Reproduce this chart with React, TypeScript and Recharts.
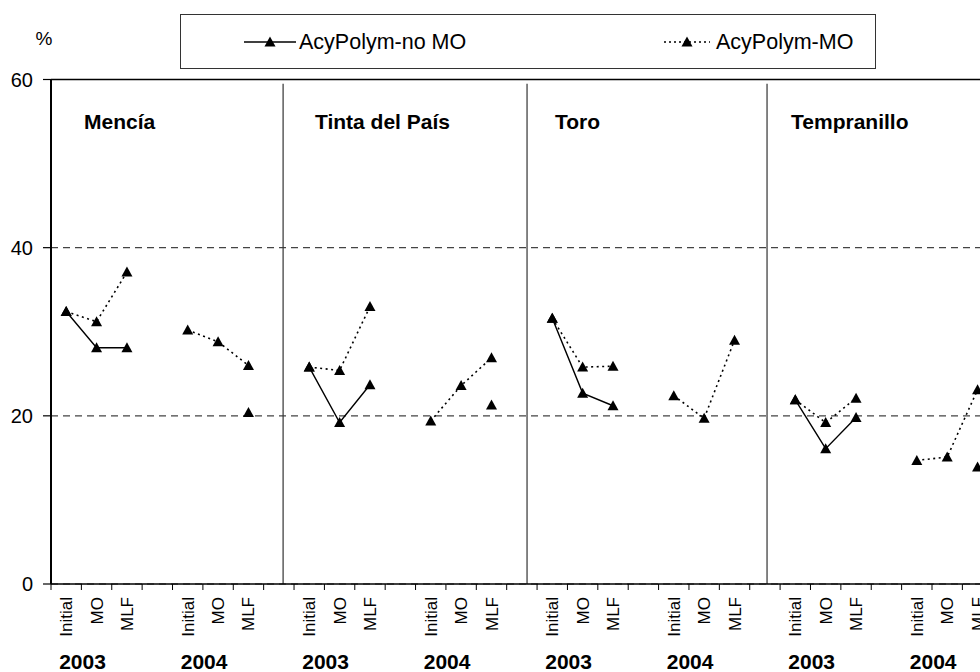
import React from 'react';
import {
  LineChart,
  Line,
  XAxis,
  YAxis,
  CartesianGrid,
  ReferenceLine,
  ReferenceDot,
  Legend,
} from 'recharts';

const FONT = '"Liberation Sans", Arial, Helvetica, sans-serif';

// ---- data ----
const categories = [
  'Initial', 'MO', 'MLF', '', 'Initial', 'MO', 'MLF', '',
  'Initial', 'MO', 'MLF', '', 'Initial', 'MO', 'MLF', '',
  'Initial', 'MO', 'MLF', '', 'Initial', 'MO', 'MLF', '',
  'Initial', 'MO', 'MLF', '', 'Initial', 'MO', 'MLF',
];

const years = ['2003', '2004', '2003', '2004', '2003', '2004', '2003', '2004'];
const yearCategoryIndex = [0, 4, 8, 12, 16, 20, 24, 28];

const varieties = ['Mencía', 'Tinta del País', 'Toro', 'Tempranillo'];

const noMO: (number | null)[] = [
  32.4, 28.1, 28.1, null, null, null, 20.4, null,
  25.8, 19.2, 23.7, null, null, null, 21.3, null,
  31.6, 22.7, 21.2, null, null, null, null, null,
  21.9, 16.1, 19.8, null, null, null, 13.9,
];

const withMO: (number | null)[] = [
  32.4, 31.2, 37.1, null, 30.2, 28.8, 26.0, null,
  25.8, 25.4, 33.0, null, 19.4, 23.6, 26.9, null,
  31.6, 25.8, 25.9, null, 22.4, 19.7, 29.0, null,
  21.9, 19.2, 22.1, null, 14.7, 15.1, 23.1,
];

const yTicks = [0, 20, 40, 60];

// layout helpers (positions, in axis units)
const X_MAX = 30.58;
const separatorX = [7.64, 15.67, 23.57];
const varietyLabelX = [1.09, 8.69, 16.59, 24.36];
const VARIETY_LABEL_Y = 54.1;

const data = categories.map((c, i) => ({
  x: i + 0.5,
  cat: c,
  noMO: noMO[i],
  mo: withMO[i],
}));

const xTickValues: number[] = [];
for (let i = 0; i <= categories.length - 1; i++) {
  xTickValues.push(i);
  xTickValues.push(i + 0.5);
}

const Tri = (props: any) => {
  const { cx, cy, value, index } = props;
  if (cx == null || cy == null || value == null) return <g key={`e-${index}`} />;
  return (
    <path
      key={`t-${index}`}
      d={`M${cx},${cy - 5.5}L${cx + 5.5},${cy + 4.5}L${cx - 5.5},${cy + 4.5}Z`}
      fill="#000"
    />
  );
};

const XTick = (props: any) => {
  const { x, y, payload } = props;
  const v = payload.value as number;
  if (Number.isInteger(v)) {
    return <line x1={x} y1={y} x2={x} y2={y + 6} stroke="#000" strokeWidth={1} />;
  }
  const i = Math.floor(v);
  const label = categories[i];
  const yi = yearCategoryIndex.indexOf(i);
  return (
    <g>
      {label ? (
        <text
          x={x + 6}
          y={y + 13}
          transform={`rotate(-90, ${x + 6}, ${y + 13})`}
          textAnchor="end"
          fontSize={17}
          fontFamily={FONT}
          fill="#000"
        >
          {label}
        </text>
      ) : null}
      {yi >= 0 ? (
        <text
          x={x - 7}
          y={y + 85}
          textAnchor="start"
          fontSize={21}
          fontWeight="bold"
          fontFamily={FONT}
          fill="#000"
        >
          {years[yi]}
        </text>
      ) : null}
    </g>
  );
};

const LegendBox = () => (
  <div
    style={{
      position: 'relative',
      width: 696,
      height: 55,
      border: '1.5px solid #333',
      boxSizing: 'border-box',
      background: '#fff',
      fontFamily: FONT,
      fontSize: 21.5,
      color: '#000',
    }}
  >
    <svg style={{ position: 'absolute', left: 63, top: 19 }} width={54} height={16}>
      <line x1={0} y1={8} x2={52} y2={8} stroke="#000" strokeWidth={1.5} />
      <path d="M26,2.5L31.5,12.5L20.5,12.5Z" fill="#000" />
    </svg>
    <span style={{ position: 'absolute', left: 118, top: 14, lineHeight: '26px', whiteSpace: 'nowrap' }}>
      AcyPolym-no MO
    </span>
    <svg style={{ position: 'absolute', left: 483, top: 19 }} width={48} height={16}>
      <line x1={0} y1={8} x2={46} y2={8} stroke="#000" strokeWidth={1.5} strokeDasharray="2 3" />
      <path d="M23,2.5L28.5,12.5L17.5,12.5Z" fill="#000" />
    </svg>
    <span style={{ position: 'absolute', left: 535, top: 14, lineHeight: '26px', whiteSpace: 'nowrap' }}>
      AcyPolym-MO
    </span>
  </div>
);

export default function App() {
  return (
    <div style={{ position: 'absolute', left: 0, top: 0, width: 980, height: 672, background: '#fff' }}>
      <LineChart
        width={980}
        height={672}
        data={data}
        margin={{ top: 79.5, right: 0, bottom: 0, left: 0 }}
      >
        <CartesianGrid vertical={false} stroke="#444" strokeDasharray="7 5" strokeWidth={1.2} />
        <XAxis
          dataKey="x"
          type="number"
          domain={[0, X_MAX]}
          ticks={xTickValues}
          interval={0}
          height={88}
          tickSize={0}
          tickMargin={0}
          tickLine={false}
          axisLine={{ stroke: '#000', strokeWidth: 1.6 }}
          tick={<XTick />}
          allowDecimals
        />
        <YAxis
          type="number"
          domain={[0, 60]}
          ticks={yTicks}
          interval={0}
          width={51}
          tickSize={8}
          tickMargin={10}
          axisLine={{ stroke: '#000', strokeWidth: 2 }}
          tickLine={{ stroke: '#000', strokeWidth: 1.2 }}
          tick={{ fontSize: 20, fill: '#000', fontFamily: FONT }}
          label={{
            content: () => (
              <text x={44} y={45} textAnchor="middle" fontSize={19} fontFamily={FONT} fill="#000">
                %
              </text>
            ),
          }}
        />
        <ReferenceLine y={60} stroke="#000" strokeWidth={1.6} />
        {separatorX.map((sx) => (
          <ReferenceLine
            key={`sep-${sx}`}
            segment={[
              { x: sx, y: 0 },
              { x: sx, y: 59.5 },
            ]}
            stroke="#333"
            strokeWidth={1.2}
          />
        ))}
        {varieties.map((name, i) => (
          <ReferenceDot
            key={`var-${name}`}
            x={varietyLabelX[i]}
            y={VARIETY_LABEL_Y}
            r={0}
            fill="none"
            stroke="none"
            label={{
              content: (p: any) => (
                <text
                  x={p.viewBox.x}
                  y={p.viewBox.y}
                  textAnchor="start"
                  fontSize={21}
                  fontWeight="bold"
                  fontFamily={FONT}
                  fill="#000"
                >
                  {name}
                </text>
              ),
            }}
          />
        ))}
        <Line
          dataKey="noMO"
          name="AcyPolym-no MO"
          type="linear"
          stroke="#000"
          strokeWidth={1.4}
          dot={Tri}
          activeDot={false}
          isAnimationActive={false}
        />
        <Line
          dataKey="mo"
          name="AcyPolym-MO"
          type="linear"
          stroke="#000"
          strokeWidth={1.6}
          strokeDasharray="2 3.5"
          dot={Tri}
          activeDot={false}
          isAnimationActive={false}
        />
        <Legend
          verticalAlign="middle"
          align="center"
          layout="horizontal"
          content={<LegendBox />}
          wrapperStyle={{ top: 14, left: 180, width: 696, height: 55 }}
        />
      </LineChart>
    </div>
  );
}
